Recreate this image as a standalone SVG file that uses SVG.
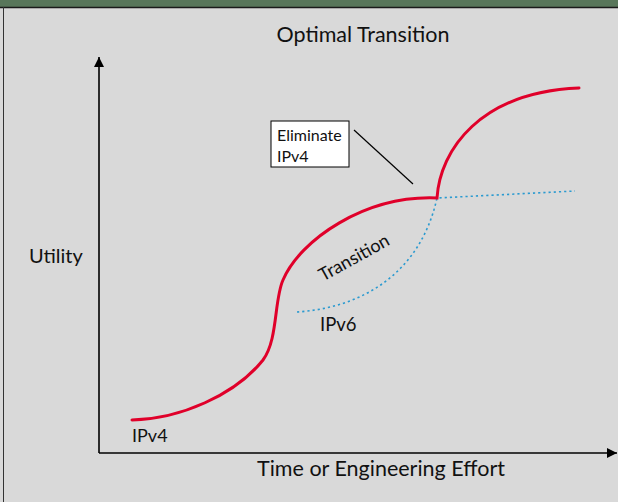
<svg xmlns="http://www.w3.org/2000/svg" width="618" height="502" viewBox="0 0 618 502">
<defs>
<style>
.t{font-family:Lato,"Open Sans","Liberation Sans",sans-serif;fill:#111}
.red{fill:none;stroke:#e0002a;stroke-width:3;stroke-linecap:round}
.dot{fill:none;stroke:#2b9ad0;stroke-width:1.6;stroke-dasharray:2.2 3}
.ax{fill:none;stroke:#000;stroke-width:1.6}
</style>
<marker id="ah" viewBox="0 0 10 10" refX="10" refY="5" markerWidth="10" markerHeight="10" markerUnits="userSpaceOnUse" orient="auto"><path d="M0,0 L10,5 L0,10 Z" fill="#000"/></marker>
</defs>
<rect x="0" y="0" width="618" height="502" fill="#d9d9d9"/>
<rect x="0" y="0" width="618" height="7" fill="#58765a"/>
<line x1="0" y1="7.5" x2="618" y2="7.5" stroke="#1a1a1a" stroke-width="1.5"/>
<line x1="3.5" y1="7" x2="3.5" y2="502" stroke="#333" stroke-width="1"/>
<text class="t" x="363" y="42" font-size="21.5" text-anchor="middle">Optimal Transition</text>
<g id="connectors">
<line class="ax" x1="99" y1="453" x2="99" y2="57" marker-end="url(#ah)"/>
<line class="ax" x1="99" y1="453" x2="617" y2="453" marker-end="url(#ah)"/>
<path class="dot" d="M297,312 C360,308 420,275 437,198 L575,191"/>
<path class="red" d="M132,420 C180,419 235,395 263,360 C278,340 274,300 283,280 C300,240 365,195 437,198 C440,150 480,92 579,88"/>
<line x1="354" y1="130" x2="413" y2="184" stroke="#000" stroke-width="1.2"/>
</g>
<g id="utility"><text class="t" x="29" y="263" font-size="20">Utility</text></g>
<g id="time"><text class="t" x="381" y="476" font-size="21.5" text-anchor="middle">Time or Engineering Effort</text></g>
<g id="ipv4"><text class="t" x="132" y="442" font-size="18">IPv4</text></g>
<g id="ipv6"><text class="t" x="320" y="331" font-size="18.5">IPv6</text></g>
<g id="transition"><text class="t" x="357" y="263" font-size="18" text-anchor="middle" transform="rotate(-29 357 263)">Transition</text></g>
<g id="eliminate">
<rect x="271" y="121" width="78" height="46" fill="#fff" stroke="#000" stroke-width="1"/>
<text class="t" x="277" y="141" font-size="16">Eliminate</text>
<text class="t" x="277" y="162" font-size="16">IPv4</text>
</g>
</svg>
